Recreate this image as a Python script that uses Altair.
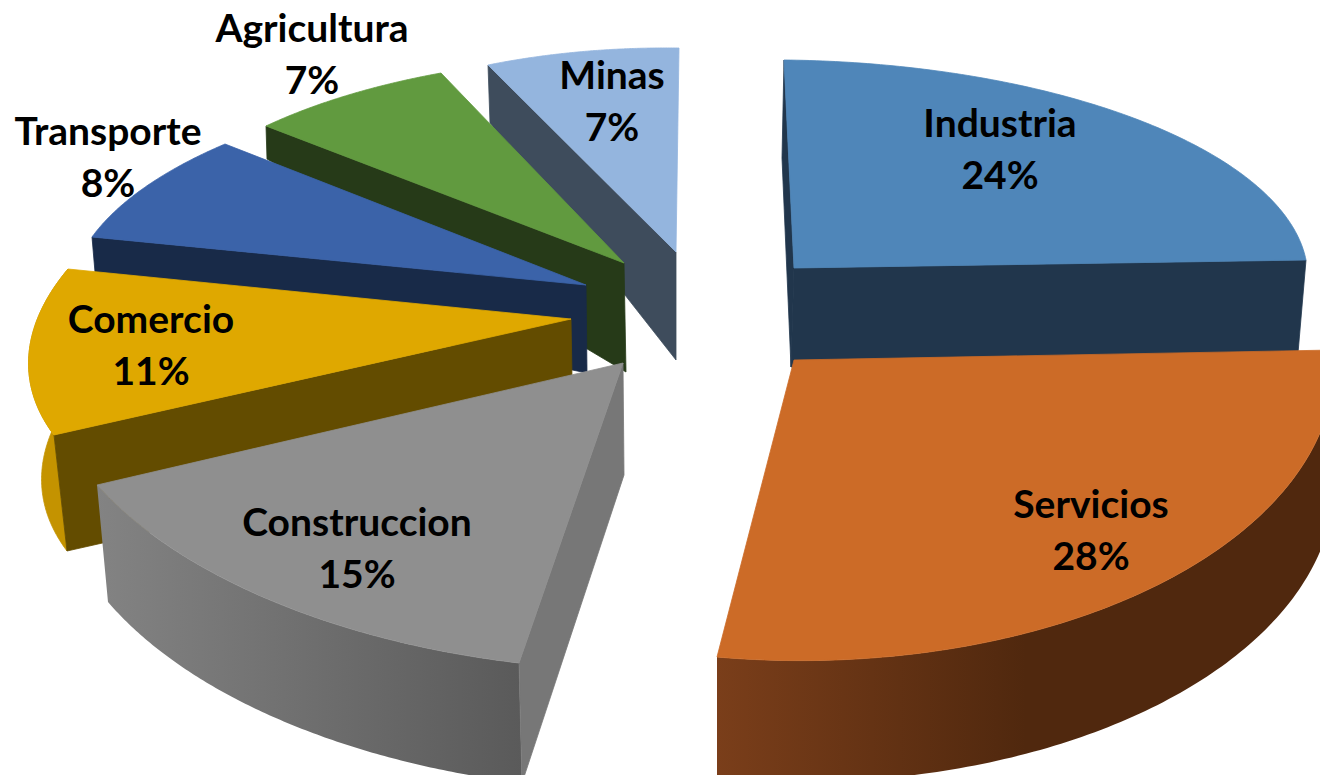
import math
import altair as alt
import pandas as pd

# ---- chart values ----
sectors = ["Industria", "Servicios", "Construccion", "Comercio", "Transporte", "Agricultura", "Minas"]
shares = [24, 28, 15, 11, 8, 7, 7]

# ---- 3-D view of each exploded slice (the sweep itself comes from shares) ----
hub = [(794, 268), (794, 360), (623, 363), (571, 319), (586, 285), (624, 263), (676, 252)]
edge_a = [(784, 60), (1334, 350), (519, 663), (54, 435), (92, 237), (266, 126), (488, 65)]
edge_b = [(1306, 260), (717, 657), (97, 485), (68, 269), (225, 144), (441, 73), (679, 48)]
rim_drop_a = [(0, 0), (0, 118), (3, 120), (13, 116), (0, 0), (0, 0), (0, 0)]
rim_drop_b = [(-8, 93), (0, 122), (11, 117), (13, 116), (0, 0), (0, 0), (0, 0)]
# which radial wall is visible: "a" / "b" edge, with drop at rim and at hub
wall_edge = ["b", None, "a", "a", "a", "a", "a"]
wall_drop_rim = [(-8, 93), None, (3, 120), (13, 116), (3, 35), (1, 33), (2, 58)]
wall_drop_hub = [(-3, 99), None, (1, 112), (2, 118), (1, 88), (2, 109), (0, 108)]

top_col = ["#4f86b9", "#cc6b27", "#8f8f8f", "#dfa800", "#3b63a9", "#619a3f", "#94b5de"]
wall_col = ["#21364c", None, "#777777", "#634c00", "#182a48", "#263a18", "#3e4c5c"]
comercio_rim_col = "#c49300"
draw_order = [6, 5, 4, 3, 2, 0, 1]

label_xy = [(1000, 151), (1091, 532), (357, 550), (151, 347), (108, 159), (312, 56), (612, 103)]
LINE_GAP = 26

# angular extent of each slice, from the shares
cum = [0]
for s in shares:
    cum.append(cum[-1] + s)


def rim_fn(k):
    """Elliptical rim through both slice edges, swept over the slice's share."""
    t0, t1 = [math.radians(cum[k + j] * 3.6) for j in (0, 1)]
    ax, ay = hub[k]
    v0 = (edge_a[k][0] - ax, edge_a[k][1] - ay)
    v1 = (edge_b[k][0] - ax, edge_b[k][1] - ay)
    s0, c0, s1, c1 = math.sin(t0), math.cos(t0), math.sin(t1), math.cos(t1)
    det = s0 * c1 - c0 * s1
    m = [[(v0[i] * c1 - v1[i] * c0) / det, (s0 * v1[i] - s1 * v0[i]) / det] for i in (0, 1)]

    def at(u):
        t = t0 + (t1 - t0) * u
        return (ax + m[0][0] * math.sin(t) + m[0][1] * math.cos(t),
                ay + m[1][0] * math.sin(t) + m[1][1] * math.cos(t))
    return at


rows = []
pid = [100]


def add_poly(group, pts, color):
    for i, (x, y) in enumerate(pts):
        rows.append({"group": group, "poly": f"p{pid[0]}", "i": i, "x": x, "y": y, "col": color})
    pid[0] += 1


def rim_wall(k):
    at = rim_fn(k)
    M = 120
    pts = [at(j / M) for j in range(M + 1)]
    for j in range(M, -1, -1):
        u = j / M
        p = at(u)
        pts.append((p[0] + rim_drop_a[k][0] + (rim_drop_b[k][0] - rim_drop_a[k][0]) * u,
                    p[1] + rim_drop_a[k][1] + (rim_drop_b[k][1] - rim_drop_a[k][1]) * u))
    return pts


# painter's groups: flat faces sit between the two shaded walls
group_of = {6: "back", 5: "back", 4: "back", 3: "back", 2: "mid", 0: "mid", 1: "front"}
for k in draw_order:
    g = group_of[k]
    at = rim_fn(k)
    if k == 3:
        add_poly(g, rim_wall(k), comercio_rim_col)
    if wall_edge[k]:
        e = edge_a[k] if wall_edge[k] == "a" else edge_b[k]
        h = hub[k]
        add_poly(g, [h, e,
                     (e[0] + wall_drop_rim[k][0], e[1] + wall_drop_rim[k][1]),
                     (h[0] + wall_drop_hub[k][0], h[1] + wall_drop_hub[k][1])], wall_col[k])
    if k == 0:  # thin sliver behind the first edge of Industria
        add_poly(g, [edge_a[0], (782, 158), (791, 367), hub[0]], wall_col[0])
    add_poly(g, [hub[k]] + [at(j / 120) for j in range(121)], top_col[k])

df = pd.DataFrame(rows)
df_rim_con = pd.DataFrame([{"i": i, "x": x, "y": y} for i, (x, y) in enumerate(rim_wall(2))])
df_rim_ser = pd.DataFrame([{"i": i, "x": x, "y": y} for i, (x, y) in enumerate(rim_wall(1))])

text_rows = []
for name, v, (x, y) in zip(sectors, shares, label_xy):
    text_rows.append({"t": name, "x": x, "y": y - LINE_GAP})
    text_rows.append({"t": f"{v}%", "x": x, "y": y + LINE_GAP})
tdf = pd.DataFrame(text_rows)

xs = alt.Scale(domain=[8, 1320], range=[0, 1312], nice=False, zero=False)
ys = alt.Scale(domain=[8, 775], range=[0, 767], nice=False, zero=False)
X = alt.X("x:Q", scale=xs, axis=None)
Y = alt.Y("y:Q", scale=ys, axis=None)


def flat(group):
    return alt.Chart(df[df["group"] == group]).mark_line(
        filled=True, interpolate="linear-closed", clip=True, strokeWidth=0.8
    ).encode(
        x=X, y=Y, detail="poly:N", order=alt.Order("i:Q"),
        fill=alt.Fill("col:N", scale=None, legend=None),
        stroke=alt.Stroke("col:N", scale=None, legend=None),
    )


def shaded(frame, stops):
    grad = alt.Gradient(gradient="linear", x1=0, x2=1, y1=0, y2=0,
                        stops=[alt.GradientStop(offset=o, color=c) for o, c in stops])
    return alt.Chart(frame).mark_line(
        filled=True, interpolate="linear-closed", clip=True, fill=grad, strokeWidth=0
    ).encode(x=X, y=Y, order=alt.Order("i:Q"))


rim_construccion = shaded(df_rim_con, [(0, "#838383"), (1, "#5a5a5a")])
rim_servicios = shaded(df_rim_ser, [(0, "#7a3e1a"), (0.5, "#50280e"), (1, "#50280e")])

texts = alt.Chart(tdf).mark_text(font="Lato", fontWeight="bold", fontSize=39, color="#000000",
                                 align="center", baseline="middle").encode(x=X, y=Y, text="t:N")

chart = alt.layer(
    flat("back"), rim_construccion, flat("mid"), rim_servicios, flat("front"), texts
).properties(
    width=1312, height=767, padding=0, autosize=alt.AutoSizeParams(type="none"),
    background="#ffffff",
).configure_view(stroke=None)

chart.save("out.html", embed_options={"renderer": "svg", "actions": False})
